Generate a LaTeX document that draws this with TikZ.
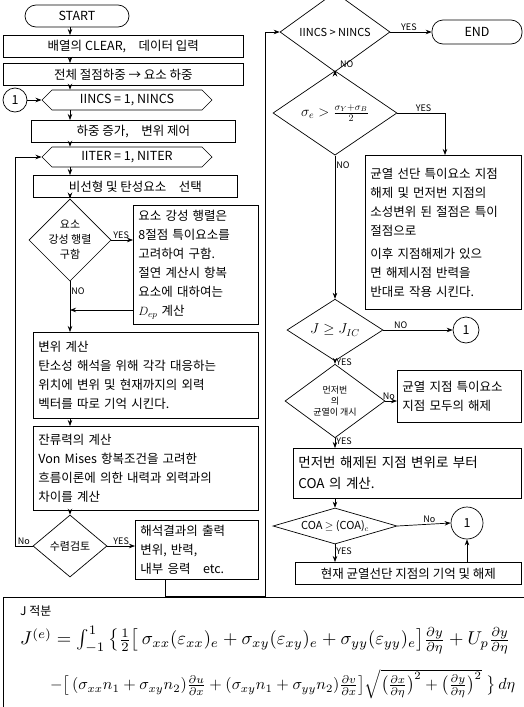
\documentclass[tikz,border=0pt]{standalone}
\usepackage{amsmath}
\usepackage{graphicx}
\usepackage[no-math]{fontspec}
\setmainfont{Noto Sans CJK KR}
\usetikzlibrary{shapes.geometric,shapes.symbols,arrows.meta}
\tikzset{
  base/.style={draw, line width=0.7pt, font=\fontsize{12.5}{19}\selectfont},
  pbox/.style={base, rectangle, align=left, inner sep=5pt, anchor=north west},
  cbox/.style={base, rectangle, align=center, inner sep=2pt, anchor=north west},
  term/.style={base, rectangle, rounded corners=11pt, align=center},
  hexa/.style={base, signal, signal to=west and east, inner sep=1pt},
  deci/.style={base, diamond, inner sep=0pt, align=center},
  conn/.style={base, circle, inner sep=0pt},
  lbl/.style={font=\fontsize{9}{10}\selectfont, inner sep=1pt},
  flow/.style={line width=0.7pt, -{Stealth[length=6pt,width=4.5pt]}},
  line/.style={line width=0.7pt},
}
\begin{document}
\begin{tikzpicture}[x=1pt,y=-1pt]
\useasboundingbox (0,0) rectangle (523,707);
\coordinate (colL) at (70,0);
\coordinate (colR) at (335,0);
% ---------- left column ----------
\node[term, minimum width=104pt, minimum height=22pt] (start) at (77,16) {START};
\node[cbox, minimum width=240pt, minimum height=22pt] (b1) at (3,35) {배열의 CLEAR,\quad 데이터 입력};
\node[cbox, minimum width=240pt, minimum height=22pt] (b2) at (3,63) {전체 절점하중 → 요소 하중};
\node[conn, minimum size=24pt] (c1) at (15,100) {1};
\node[hexa, minimum width=170pt, minimum height=20pt] (h1) at (127,100) {IINCS = 1, NINCS};
\node[cbox, minimum width=204pt, minimum height=22pt] (b3) at (31,120) {하중 증가,\quad 변위 제어};
\node[hexa, minimum width=170pt, minimum height=20pt] (h2) at (127,157) {IITER = 1, NITER};
\node[cbox, minimum width=204pt, minimum height=22pt] (b4) at (33,175) {비선형 및 탄성요소\quad 선택};
\node[deci, minimum width=76pt, minimum height=80pt, font=\fontsize{11}{15}\selectfont] (d1) at (70,240) {요소\\강성 행렬\\구함};
\node[pbox, text width=115pt, minimum height=117pt] (b5) at (133,205) {요소 강성 행렬은\\8절점 특이요소를\\고려하여 구함.\\절연 계산시 항복\\요소에 대하여는\\$D_{ep}$ 계산};
\node[pbox, text width=215pt, minimum height=86pt] (b6) at (33,332) {변위 계산\\탄소성 해석을 위해 각각 대응하는\\위치에 변위 및 현재까지의 외력\\벡터를 따로 기억 시킨다.};
\node[pbox, text width=215pt, minimum height=84pt] (b7) at (33,426) {잔류력의 계산\\Von Mises 항복조건을 고려한\\흐름이론에 의한 내력과 외력과의\\차이를 계산};
\node[deci, minimum width=74pt, minimum height=62pt, font=\fontsize{11}{15}\selectfont] (d2) at (70,546) {수렴검토};
\node[pbox, text width=113pt, minimum height=50pt] (b8) at (135,520) {해석결과의 출력\\변위, 반력,\\내부 응력\quad etc.};
% ---------- right column ----------
\node[deci, minimum width=110pt, minimum height=62pt, font=\fontsize{11}{13}\selectfont] (d3) at (335,32) {IINCS > NINCS};
\node[term, minimum width=90pt, minimum height=24pt] (end) at (477,32) {END};
\node[deci, minimum width=124pt, minimum height=80pt, font=\fontsize{14}{16}\selectfont] (d4) at (335,113) {$\sigma_e > \frac{\sigma_Y+\sigma_B}{2}$};
\node[pbox, text width=146pt, minimum height=154pt] (b9) at (365,155) {균열 선단 특이요소 지점\\해제 및 먼저번 지점의\\소성변위 된 절점은 특이\\절점으로\\[4pt]이후 지점해제가 있으\\면 해제시점 반력을\\반대로 작용 시킨다.};
\node[deci, minimum width=96pt, minimum height=48pt, font=\fontsize{14}{16}\selectfont] (d5) at (335,330) {$J \geq J_{IC}$};
\node[conn, minimum size=26pt] (c2) at (466,330) {1};
\node[deci, minimum width=100pt, minimum height=72pt, font=\fontsize{9}{11}\selectfont] (d6) at (335,401) {먼저번\\의\\균열이 개시};
\node[pbox, text width=114pt, minimum height=52pt] (b10) at (397,370) {균열 지점 특이요소\\지점 모두의 해제};
\node[pbox, text width=218pt, minimum height=50pt, font=\fontsize{13.5}{21}\selectfont] (b11) at (293,448) {먼저번 해제된 지점 변위로 부터\\COA 의 계산.};
\node[deci, aspect=3.4, minimum width=124pt, minimum height=36pt, font=\fontsize{11}{13}\selectfont] (d7) at (335,526) {COA $\geq$ (COA)$_c$};
\node[conn, minimum size=32pt] (c3) at (467,523) {1};
\node[cbox, minimum width=226pt, minimum height=22pt, font=\fontsize{12.5}{15}\selectfont] (b12) at (295,562) {현재 균열선단 지점의 기억 및 해제};
% ---------- J integral box ----------
\draw[line] (3,709) -- (3,597) -- (525,597);
\node[anchor=west, inner sep=0pt, font=\fontsize{12}{14}\selectfont] (jt) at (20,611) {J 적분};
\node[anchor=west, inner sep=0pt] (jf1) at (20,640) {\resizebox{490pt}{!}{$J^{(e)}=\int_{-1}^{1}\big\{\tfrac{1}{2}\big[\,\sigma_{xx}(\varepsilon_{xx})_e+\sigma_{xy}(\varepsilon_{xy})_e+\sigma_{yy}(\varepsilon_{yy})_e\big]\tfrac{\partial y}{\partial\eta}+U_p\tfrac{\partial y}{\partial\eta}$}};
\node[anchor=west, inner sep=0pt] (jf2) at (50,684) {\resizebox{465pt}{!}{$-\big[\,(\sigma_{xx}n_1+\sigma_{xy}n_2)\tfrac{\partial u}{\partial x}+(\sigma_{xy}n_1+\sigma_{yy}n_2)\tfrac{\partial v}{\partial x}\big]\sqrt{\big(\tfrac{\partial x}{\partial\eta}\big)^2+\big(\tfrac{\partial y}{\partial\eta}\big)^2}\;\big\}\,d\eta$}};
% ---------- connectors left ----------
\draw[flow] (start.south -| colL) -- (b1.north -| colL);
\draw[flow] (b1.south -| colL) -- (b2.north -| colL);
\draw[flow] (b2.south -| colL) -- (h1.north -| colL);
\draw[flow] (c1) -- (h1.west);
\draw[flow] (h1.south -| colL) -- (b3.north -| colL);
\draw[flow] (b3.south -| colL) -- (h2.north -| colL);
\draw[flow] (h2.south -| colL) -- (b4.north -| colL);
\draw[flow] (b4.south -| colL) -- (d1.north);
\draw[flow] (d1.east) -- (d1.east -| b5.west) node[lbl, pos=0.45, above] {YES};
\coordinate (r1) at (70,310);
\draw[flow] (r1 -| b5.west) -- (r1);
\draw[flow] (d1.south) -- (b6.north -| colL) node[lbl, pos=0.2, right] {NO};
\draw[flow] (b6.south -| colL) -- (b7.north -| colL);
\draw[flow] (b7.south -| colL) -- (d2.north);
\draw[flow] (d2.east) -- (d2.east -| b8.west) node[lbl, pos=0.5, above] {YES};
\coordinate (lp) at (15,546);
\draw[flow] (d2.west) -- (lp) node[lbl, pos=0.5, above] {No} -- (lp |- h2.west) -- (h2.west);
\coordinate (rb) at (165,596);
\coordinate (rr) at (265,596);
\draw[flow] (b8.south -| rb) -- (rb) -- (rr) -- (rr |- d3.west) -- (d3.west);
% ---------- connectors right ----------
\draw[flow] (d3.east) -- (end.west) node[lbl, pos=0.45, above] {YES};
\draw[flow] (d3.south) -- (d4.north);
\node[lbl, anchor=west] (lno1) at (339,64) {NO};
\coordinate (yr) at (445,113);
\draw[flow] (d4.east) -- (yr) node[lbl, pos=0.55, above] {YES} -- (yr |- b9.north);
\draw[flow] (d4.south) -- (d5.north) node[lbl, pos=0.07, right] {NO};
\draw[flow] (d5.east) -- (c2.west) node[lbl, pos=0.25, above] {NO};
\draw[flow] (d5.south) -- (d6.north) node[lbl, pos=0.35, right] {YES};
\draw[flow] (d6.east) -- (d6.east -| b10.west) node[lbl, pos=0.3, above] {No};
\draw[flow] (d6.south) -- (b11.north -| colR) node[lbl, pos=0.35, right] {YES};
\draw[flow] (b11.south -| colR) -- (d7.north);
\draw[flow] (d7.east) -- (c3.west) node[lbl, pos=0.6, above] {No};
\draw[flow] (d7.south) -- (b12.north -| colR) node[lbl, pos=0.4, right] {YES};
\draw[flow] (b12.north -| c3) -- (c3.south);
\end{tikzpicture}
\end{document}
